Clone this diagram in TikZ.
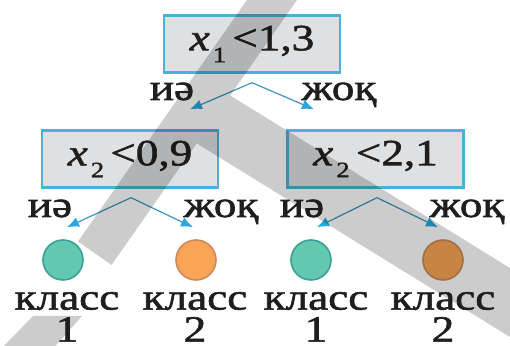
\documentclass[tikz,border=0pt]{standalone}
\usepackage{fontspec}
\setmainfont{Liberation Serif}
\newfontfamily\treefont{Liberation Serif}[FakeStretch=1.22,FakeBold=1.6]
\usetikzlibrary{arrows.meta,positioning,calc}
\definecolor{CondBlue}  {RGB}{ 77,176,216}
\definecolor{CondGray}  {RGB}{222,224,226}
\definecolor{ArrLine}   {RGB}{ 62,150,188}
\definecolor{ArrTip}    {RGB}{ 40,166,222}
\definecolor{LeafGreen} {RGB}{ 98,200,176}
\definecolor{LeafGreenD}{RGB}{ 60,160,150}
\definecolor{LeafOrange}{RGB}{250,165, 86}
\definecolor{LeafOrangeD}{RGB}{200,140, 90}
\definecolor{InkBlack}  {RGB}{ 30, 30, 30}
%% x с индексом
\newcommand{\xsub}[1]{\textit{x}\kern1.5pt\raisebox{-6pt}{\fontsize{11}{11}\selectfont #1}}
\tikzset{
  %% условие в узле дерева
  condbox/.style={rectangle,draw=CondBlue,line width=1.2pt,fill=CondGray,
                  minimum width=88pt,minimum height=28.5pt,inner sep=0pt,
                  font=\treefont\fontsize{18.5}{20}\selectfont,text=InkBlack},
  %% подписи ветвей
  brlbl/.style={font=\treefont\fontsize{18.5}{20}\selectfont,text=InkBlack,
                inner sep=0pt,anchor=base},
  %% подписи классов (две строки)
  clslbl/.style={font=\treefont\fontsize{18.5}{16}\selectfont,text=InkBlack,
                 inner sep=0pt,align=center,anchor=south},
  %% листья
  leafG/.style={circle,draw=LeafGreenD,fill=LeafGreen,line width=0.8pt,
                minimum size=20pt,inner sep=0pt},
  leafO/.style={circle,draw=LeafOrangeD,fill=LeafOrange,line width=0.8pt,
                minimum size=20pt,inner sep=0pt},
  %% стрелки
  brarr/.style={-{Latex[length=6pt,width=5pt,color=ArrTip]},line width=0.6pt,color=ArrLine},
}
\begin{document}
\begin{tikzpicture}[x=0.5pt,y=-0.5pt]
    \useasboundingbox (0,0) rectangle (510,346);

    %% узлы-условия
    \node[condbox] (root) at (252,44)    {\xsub{1}\,<1,3};
    \node[condbox] (lnode) at (130,159)  {\xsub{2}\,<0,9};
    \node[condbox] (rnode) at (375.5,159) {\xsub{2}\,<2,1};

    %% листья
    \node[leafG] (leafA) at (63,260)  {};
    \node[leafO] (leafB) at (196,260) {};
    \node[leafG] (leafC) at (311,260) {};
    \node[leafO] (leafD) at (443,260) {};

    %% точки ветвления и концы стрелок
    \coordinate (rootfork) at ($(root.south)+(0,9)$);
    \coordinate (lfork)    at ($(lnode.south)+(1,9)$);
    \coordinate (rfork)    at ($(rnode.south)+(1.5,9)$);
    \coordinate (rootL) at ($(lnode.north)+(60,-20)$);
    \coordinate (rootR) at ($(rnode.north)+(-61.5,-20)$);
    \coordinate (lL) at ($(leafA.north)+(4,-12)$);
    \coordinate (lR) at ($(leafB.north)+(-3,-12)$);
    \coordinate (rL) at ($(leafC.north)+(6,-12)$);
    \coordinate (rR) at ($(leafD.north)+(-5,-12)$);

    %% ветви
    \draw[brarr] (rootfork) -- (rootL);
    \draw[brarr] (rootfork) -- (rootR);
    \draw[brarr] (lfork) -- (lL);
    \draw[brarr] (lfork) -- (lR);
    \draw[brarr] (rfork) -- (rL);
    \draw[brarr] (rfork) -- (rR);

    %% серые полосы
    \fill[black,opacity=0.2]
      (247,0) -- (297,0) -- (111.5,265) -- (78,241.5) -- cycle
      (205,80) -- (510,268) -- (510,337) -- (180,133) -- cycle;
    \fill[black,opacity=0.2] (33,316) -- (82,316) -- (52,350) -- (0,350) -- cycle;

    %% подписи ветвей
    \node[brlbl] (rootyes) at (172,100) {иә};
    \node[brlbl] (rootno)  at (339,100) {жоқ};
    \node[brlbl] (lyes) at (50,217)  {иә};
    \node[brlbl] (lno)  at (221,217) {жоқ};
    \node[brlbl] (ryes) at (302,217) {иә};
    \node[brlbl] (rno)  at (467,217) {жоқ};

    %% классы
    \node[clslbl] (clsA) at (67,342)  {класс\\1};
    \node[clslbl] (clsB) at (195,342) {класс\\2};
    \node[clslbl] (clsC) at (316,342) {класс\\1};
    \node[clslbl] (clsD) at (443,342) {класс\\2};
  \end{tikzpicture}
\end{document}
